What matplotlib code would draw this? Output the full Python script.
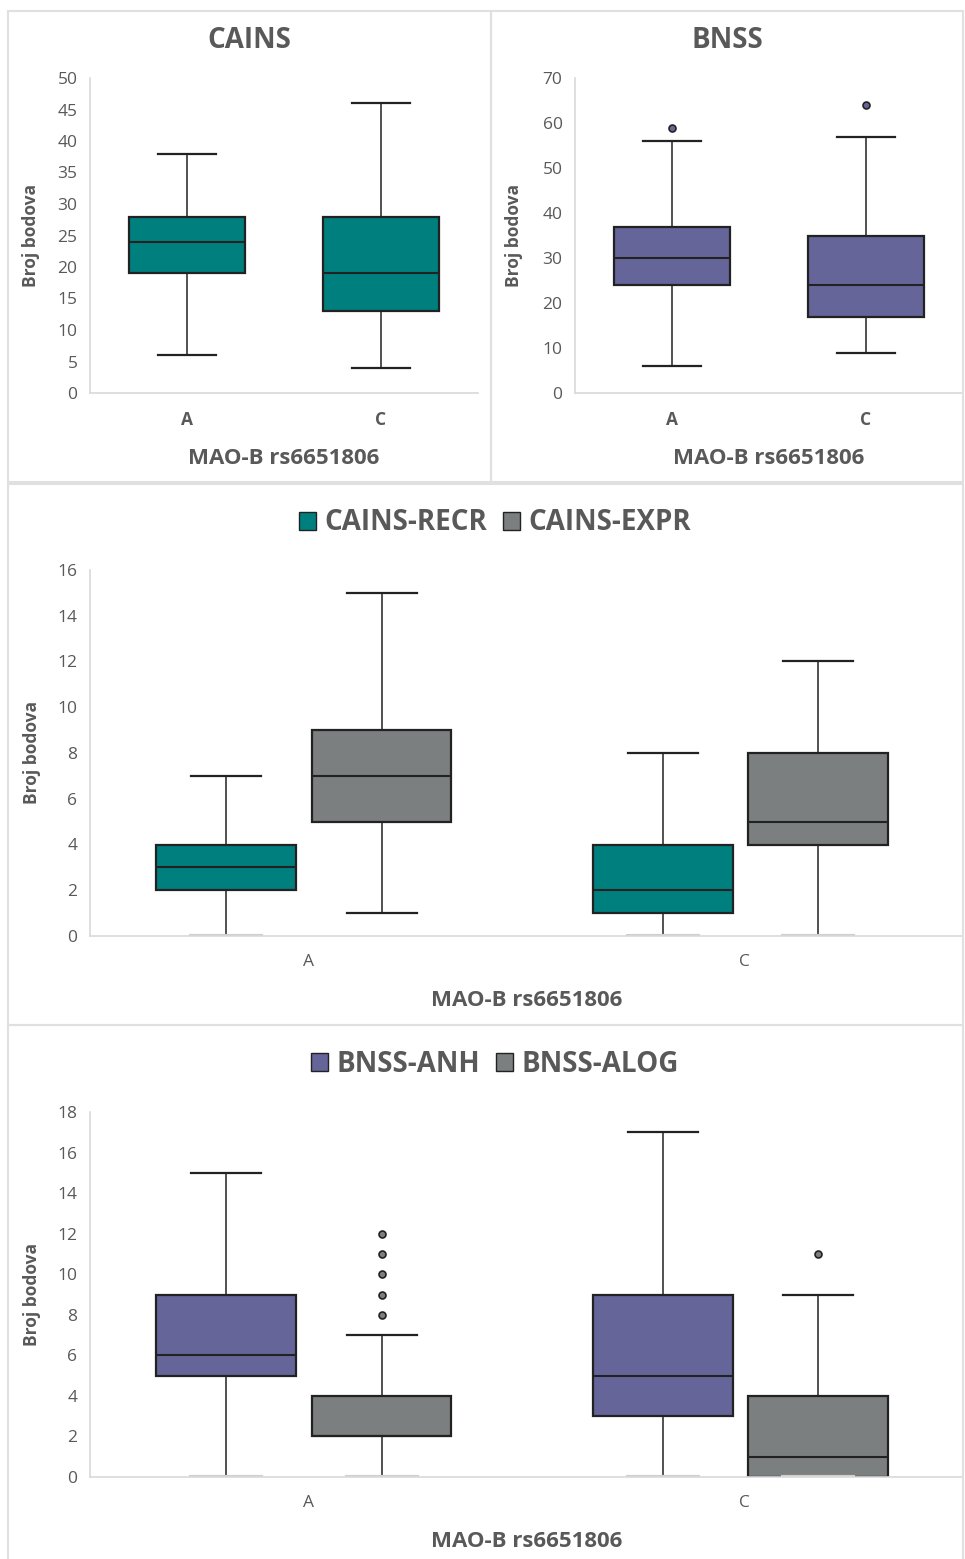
import matplotlib.pyplot as plt
from matplotlib.patches import Rectangle

plt.rcParams['font.family'] = ['Open Sans', 'DejaVu Sans']

# data: [low whisker, Q1, median, Q3, high whisker]
groups = ["A", "C"]
cains = [[6, 19, 24, 28, 38], [4, 13, 19, 28, 46]]
cains_out = [[], []]
bnss = [[6, 24, 30, 37, 56], [9, 17, 24, 35, 57]]
bnss_out = [[59], [64]]
cains_recr = [[0, 2, 3, 4, 7], [0, 1, 2, 4, 8]]
cains_expr = [[1, 5, 7, 9, 15], [0, 4, 5, 8, 12]]
bnss_anh = [[0, 5, 6, 9, 15], [0, 3, 5, 9, 17]]
bnss_alog = [[0, 2, 2, 4, 7], [0, 0, 1, 4, 9]]
bnss_alog_out = [[8, 9, 10, 11, 12], [11]]

teal = "#007f7f"
purple = "#65659a"
gray = "#7b7f80"
txt = "#595959"
axc = "#d9d9d9"

W, H = 965, 1559
fig = plt.figure(figsize=(W / 100, H / 100), dpi=100)


def px_axes(x0, y0, x1, y1):
    return fig.add_axes([x0 / W, 1 - y1 / H, (x1 - x0) / W, (y1 - y0) / H])


def stats(vals, outs):
    res = []
    for v, o in zip(vals, outs):
        res.append(dict(whislo=v[0], q1=v[1], med=v[2], q3=v[3], whishi=v[4], fliers=o))
    return res


def draw(ax, vals, outs, pos, width, color):
    bp = ax.bxp(stats(vals, outs), positions=pos, widths=width, patch_artist=True,
                manage_ticks=False,
                boxprops=dict(facecolor=color, edgecolor="#222222", linewidth=1.6),
                medianprops=dict(color="#222222", linewidth=1.5),
                whiskerprops=dict(color="#222222", linewidth=1.1),
                capprops=dict(color="#222222", linewidth=1.6),
                flierprops=dict(marker="o", markersize=5, markerfacecolor=color,
                                markeredgecolor="#222222", markeredgewidth=1.2))
    for c in bp["caps"]:
        if c.get_ydata()[0] == 0:
            c.set_color("#cfcfcf")
            c.set_linewidth(3)
    return bp


def style(ax, ymax, step, ylab_x, xlab_y, bold_x=True):
    ax.set_xlim(-0.5, 1.5)
    ax.set_ylim(0, ymax)
    ax.set_yticks(range(0, ymax + 1, step))
    ax.set_xticks([0, 1])
    ax.set_xticklabels(groups, fontweight="bold" if bold_x else "normal")
    for s in ["top", "right"]:
        ax.spines[s].set_visible(False)
    for s in ["left", "bottom"]:
        ax.spines[s].set_color(axc)
        ax.spines[s].set_linewidth(1.2)
    ax.tick_params(length=0, colors=txt, labelsize=12.5)
    ax.tick_params(axis="y", pad=9)
    ax.tick_params(axis="x", pad=13)
    ax.set_ylabel("Broj bodova", fontsize=12.5, fontweight="bold", color=txt)
    ax.set_xlabel("MAO-B rs6651806", fontsize=16, fontweight="bold", color=txt)
    ax.yaxis.set_label_coords(ylab_x, 0.5)
    ax.xaxis.set_label_coords(0.5, xlab_y)


# panel borders
for (x0, y0, x1, y1) in [(8, 11, 491, 482), (491, 11, 963, 482),
                         (8, 484, 963, 1025), (8, 1025, 963, 1565)]:
    fig.patches.append(Rectangle((x0 / W, 1 - y1 / H), (x1 - x0) / W, (y1 - y0) / H,
                                 transform=fig.transFigure, fill=False,
                                 edgecolor="#e0e0e0", linewidth=1.5))

# CAINS
ax1 = px_axes(90, 78, 478, 393)
draw(ax1, cains, cains_out, [0, 1], 0.6, teal)
style(ax1, 50, 5, -0.129, -0.175)
fig.text(249 / W, 1 - 40 / H, "CAINS", ha="center", va="center", fontsize=20,
         fontweight="bold", color=txt)

# BNSS
ax2 = px_axes(575, 78, 963, 393)
draw(ax2, bnss, bnss_out, [0, 1], 0.6, purple)
style(ax2, 70, 10, -0.134, -0.175)
fig.text(727 / W, 1 - 40 / H, "BNSS", ha="center", va="center", fontsize=20,
         fontweight="bold", color=txt)

# CAINS subscales
ax3 = px_axes(90, 570, 963, 936)
draw(ax3, cains_recr, [[], []], [-0.188, 0.812], 0.32, teal)
draw(ax3, cains_expr, [[], []], [0.168, 1.168], 0.32, gray)
style(ax3, 16, 2, -0.056, -0.148, bold_x=False)
h1 = Rectangle((0, 0), 1, 1, facecolor=teal, edgecolor="#222222")
h2 = Rectangle((0, 0), 1, 1, facecolor=gray, edgecolor="#222222")
fig.legend([h1, h2], ["CAINS-RECR", "CAINS-EXPR"], loc="center",
           bbox_to_anchor=(495 / W, 1 - 523 / H), ncol=2, frameon=False,
           prop=dict(size=20, weight="bold"), labelcolor=txt, handlelength=0.6,
           handleheight=0.6, handletextpad=0.3, columnspacing=0.6)

# BNSS subscales
ax4 = px_axes(90, 1112, 963, 1477)
draw(ax4, bnss_anh, [[], []], [-0.188, 0.812], 0.32, purple)
draw(ax4, bnss_alog, bnss_alog_out, [0.168, 1.168], 0.32, gray)
style(ax4, 18, 2, -0.056, -0.148, bold_x=False)
h3 = Rectangle((0, 0), 1, 1, facecolor=purple, edgecolor="#222222")
h4 = Rectangle((0, 0), 1, 1, facecolor=gray, edgecolor="#222222")
fig.legend([h3, h4], ["BNSS-ANH", "BNSS-ALOG"], loc="center",
           bbox_to_anchor=(495 / W, 1 - 1064 / H), ncol=2, frameon=False,
           prop=dict(size=20, weight="bold"), labelcolor=txt, handlelength=0.6,
           handleheight=0.6, handletextpad=0.3, columnspacing=0.6)

fig.savefig("out.png", dpi=100, facecolor="white")
